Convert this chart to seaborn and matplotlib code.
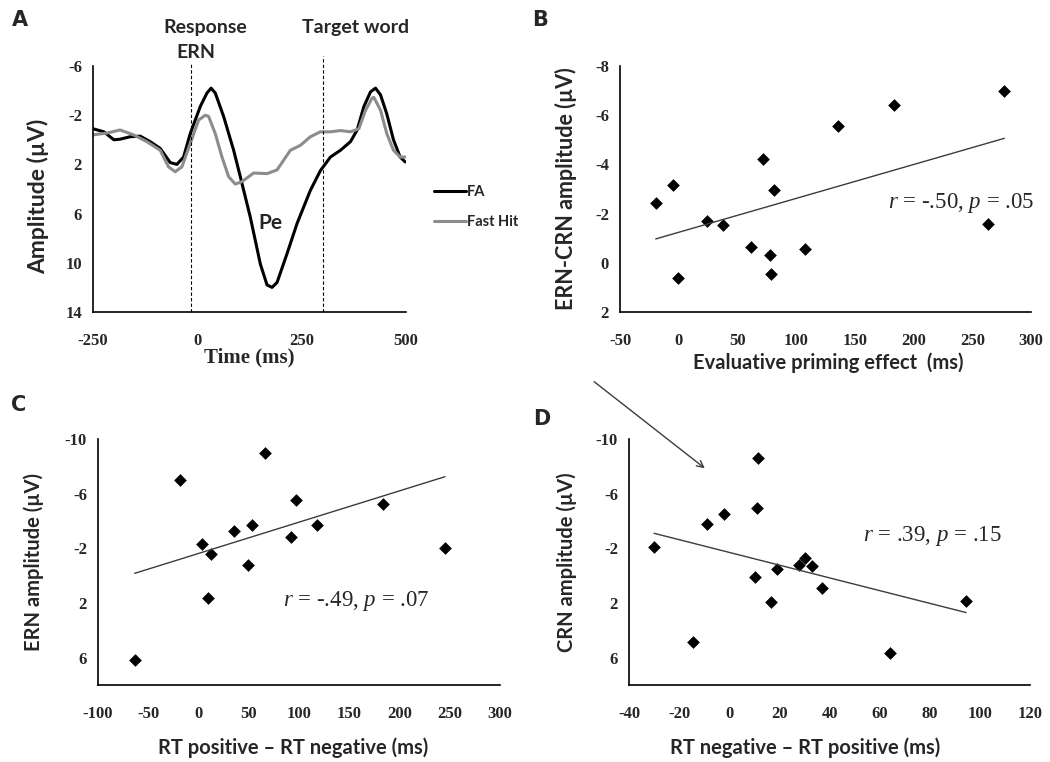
import numpy as np
import pandas as pd
import matplotlib
matplotlib.use("Agg")
import matplotlib.pyplot as plt
from matplotlib.patches import FancyArrowPatch
from matplotlib.lines import Line2D
import seaborn as sns

# ---------------- data ----------------
# Panel A: ERP waveforms
fa_time = [-250, -224, -200, -185, -161, -137, -113, -89, -65, -49, -33, -17, 7, 23, 33,
           43, 63, 87, 103, 127, 151, 167, 179, 191, 215, 239, 271, 295, 319, 343,
           367, 383, 399, 415, 427, 439, 454, 470, 486, 498]
fa_amp = [-0.9, -0.65, 0.0, -0.05, -0.25, -0.3, 0.15, 0.7, 1.85, 2.0, 1.4, -0.5, -2.7, -3.8, -4.2,
          -3.8, -1.9, 0.85, 3.0, 6.3, 10.1, 11.8, 12.0, 11.6, 9.25, 6.8, 4.1, 2.5, 1.4, 0.85,
          0.15, -0.8, -2.7, -3.9, -4.2, -3.65, -2.1, 0.0, 1.4, 1.8]
hit_time = [-250, -216, -185, -153, -121, -89, -69, -53, -37, -17, 3, 19, 27, 43, 59,
            75, 91, 107, 135, 167, 191, 207, 223, 247, 271, 295, 319, 343, 367, 387,
            403, 419, 423, 439, 454, 470, 486, 498]
hit_amp = [-0.4, -0.55, -0.8, -0.4, 0.15, 0.85, 2.2, 2.6, 2.2, 0.3, -1.6, -2.0, -1.9, -0.5, 1.4,
           3.0, 3.6, 3.4, 2.7, 2.75, 2.45, 1.65, 0.85, 0.45, -0.25, -0.65, -0.65, -0.75, -0.65, -0.9,
           -2.4, -3.4, -3.45, -2.4, -0.5, 0.85, 1.4, 1.4]
series_names = ["FA", "Fast Hit"]
event_times = [-15, 300]

# Panel B
b_x = [-19.6, -4.5, -0.3, 23.9, 37.5, 61.6, 71.6, 77.8, 78.7, 81.5, 107.7, 136, 183.2, 263.4, 277.3]
b_y = [-2.45, -3.18, 0.6, -1.69, -1.55, -0.65, -4.2, -0.33, 0.44, -2.95, -0.56, -5.56, -6.41, -1.57, -7.0]
b_fit_x = [-19.6, 277.3]
b_fit_y = [-0.97, -5.06]
# Panel C
c_x = [-63.5, -18.7, 3.6, 9.5, 12.9, 35.1, 49.4, 53.7, 66.6, 91.9, 97.5, 118.4, 183.2, 245.2]
c_y = [6.17, -7.0, -2.32, 1.66, -1.56, -3.29, -0.78, -3.71, -8.95, -2.8, -5.54, -3.71, -5.24, -2.0]
c_fit_x = [-63.5, 245.2]
c_fit_y = [-0.17, -7.24]
# Panel D
d_x = [-30, -14.4, -8.7, -2, 10.2, 10.9, 11.5, 16.8, 19.2, 27.8, 30.3, 33.2, 37.2, 64, 94.5]
d_y = [-2.12, 4.88, -3.78, -4.49, 0.12, -4.98, -8.63, 1.9, -0.49, -0.8, -1.3, -0.71, 0.93, 5.63, 1.83]
d_fit_x = [-30, 94.5]
d_fit_y = [-3.1, 2.7]

stats_text = [r"$r$ = -.50, $p$ = .05", r"$r$ = -.49, $p$ = .07", r"$r$ = .39, $p$ = .15"]

# ---------------- style ----------------
sns.set_style("white")
plt.rcParams["axes.unicode_minus"] = False
plt.rcParams["mathtext.fontset"] = "custom"
plt.rcParams["mathtext.it"] = "Liberation Serif:italic"
plt.rcParams["mathtext.rm"] = "Liberation Serif"

W, H = 1050, 762
fig = plt.figure(figsize=(W / 100, H / 100), dpi=100)


def box(l, r, t, b):
    return [l / W, 1 - b / H, (r - l) / W, (b - t) / H]


TICK_FONT = dict(family="Liberation Serif", weight="bold", size=12)
SANS = "Lato"


def label_font(size):
    return dict(fontfamily=SANS, fontweight="bold", fontsize=size)


def style_axes(ax):
    sns.despine(ax=ax)
    for s in ("left", "bottom"):
        ax.spines[s].set_color("black")
        ax.spines[s].set_linewidth(1.2)
    ax.tick_params(axis="x", direction="in", length=4, width=1, color="black", pad=15)
    ax.tick_params(axis="y", direction="out", length=4, width=1, color="black", pad=4)
    for lab in ax.get_xticklabels() + ax.get_yticklabels():
        lab.set_fontfamily(TICK_FONT["family"])
        lab.set_fontweight(TICK_FONT["weight"])
        lab.set_fontsize(TICK_FONT["size"])


def ftext(x, y, s, **kw):
    fig.text(x / W, 1 - y / H, s, **kw)


# ---------------- Panel A ----------------
axA = fig.add_axes(box(93, 406, 66, 312))
dfA = pd.concat([
    pd.DataFrame({"Time": fa_time, "Amp": fa_amp, "Condition": series_names[0]}),
    pd.DataFrame({"Time": hit_time, "Amp": hit_amp, "Condition": series_names[1]}),
])
sns.lineplot(data=dfA, x="Time", y="Amp", hue="Condition",
             palette={"FA": "#000000", "Fast Hit": "#8c8c8c"}, linewidth=2.2,
             ax=axA, legend=False)
axA.set_xlim(-250, 500)
axA.set_ylim(14, -6)
axA.set_xticks([-250, 0, 250, 500])
axA.set_yticks([-6, -2, 2, 6, 10, 14])
for t, top in zip(event_times, [1.012, 1.04]):
    axA.axvline(t, ymin=0, ymax=top, color="black", lw=0.8, ls=(0, (3, 2)), clip_on=False)
style_axes(axA)
axA.set_xlabel("Time (ms)", fontfamily="Liberation Serif", fontweight="bold", fontsize=15)
axA.xaxis.set_label_coords(0.5, -0.145)
axA.set_ylabel("Amplitude (µV)", **label_font(16.5))
axA.yaxis.set_label_coords(-0.14, 0.47)
axA.text(175, 6.8, "Pe", fontsize=15, ha="center", va="center", fontfamily=SANS, fontweight="bold")
for (x, y, s) in [(205, 27, "Response"), (196, 52, "ERN"), (356, 27, "Target word")]:
    ftext(x, y, s, ha="center", va="center", **label_font(14))
handles = [Line2D([], [], color="#000000", lw=2.2), Line2D([], [], color="#8c8c8c", lw=2.2)]
fig.legend(handles, series_names, loc="center left", bbox_to_anchor=(421 / W, 1 - 207 / H),
           frameon=False, handlelength=2.2, handletextpad=0.05, labelspacing=1.1,
           prop=dict(family=SANS, weight="bold", size=10.5))

# ---------------- scatter panels ----------------
scatter_kw = dict(s=42, linewidths=0, alpha=1.0)
line_color = "#3c3c3c"


def scatter_panel(box_px, x, y, fx, fy, xlim, ylim, xticks, yticks, xlabel, ylabel,
                  xlab_pos, ylab_pos, ylab_size, stat, stat_pos):
    ax = fig.add_axes(box(*box_px))
    sns.regplot(x=x, y=y, ax=ax, fit_reg=False, marker="D", color="black", scatter_kws=scatter_kw)
    sns.lineplot(x=fx, y=fy, ax=ax, color=line_color, linewidth=1.0)
    ax.set_xlim(*xlim)
    ax.set_ylim(*ylim)
    ax.set_xticks(xticks)
    ax.set_yticks(yticks)
    style_axes(ax)
    ax.set_xlabel(xlabel, **label_font(14.5))
    ax.xaxis.set_label_coords(*xlab_pos)
    ax.set_ylabel(ylabel, **label_font(ylab_size))
    ax.yaxis.set_label_coords(*ylab_pos)
    ax.text(stat_pos[0], stat_pos[1], stat, fontfamily="Liberation Serif", fontsize=16.5,
            ha="left", va="center")
    return ax


axB = scatter_panel((620, 1031, 66, 312), b_x, b_y, b_fit_x, b_fit_y, (-50, 300), (2, -8),
                    range(-50, 301, 50), [-8, -6, -4, -2, 0, 2],
                    "Evaluative priming effect  (ms)", "ERN-CRN amplitude (µV)",
                    (0.506, -0.165), (-0.105, 0.5), 15.5, stats_text[0], (178, -2.45))
axC = scatter_panel((98, 500, 439, 685), c_x, c_y, c_fit_x, c_fit_y, (-100, 300), (8, -10),
                    range(-100, 301, 50), [-10, -6, -2, 2, 6],
                    "RT positive – RT negative (ms)", "ERN amplitude (µV)",
                    (0.485, -0.215), (-0.135, 0.5), 14.5, stats_text[1], (84, 1.85))
axD = scatter_panel((629, 1030, 439, 685), d_x, d_y, d_fit_x, d_fit_y, (-40, 120), (8, -10),
                    range(-40, 121, 20), [-10, -6, -2, 2, 6],
                    "RT negative – RT positive (ms)", "CRN amplitude (µV)",
                    (0.44, -0.215), (-0.13, 0.5), 14.5, stats_text[2], (53.4, -2.9))

# panel letters
for (x, y, s) in [(20, 20, "A"), (540, 20, "B"), (19, 405, "C"), (542, 419, "D")]:
    ftext(x, y, s, fontfamily="DejaVu Sans", fontweight="bold", fontsize=15, ha="center", va="center")

# stray arrow
arrow = FancyArrowPatch((592 / W, 1 - 380 / H), (707 / W, 1 - 470 / H), transform=fig.transFigure,
                        arrowstyle="->", mutation_scale=12, color="#3c3c3c", lw=1.0)
fig.add_artist(arrow)

fig.savefig("out.png", dpi=100)
